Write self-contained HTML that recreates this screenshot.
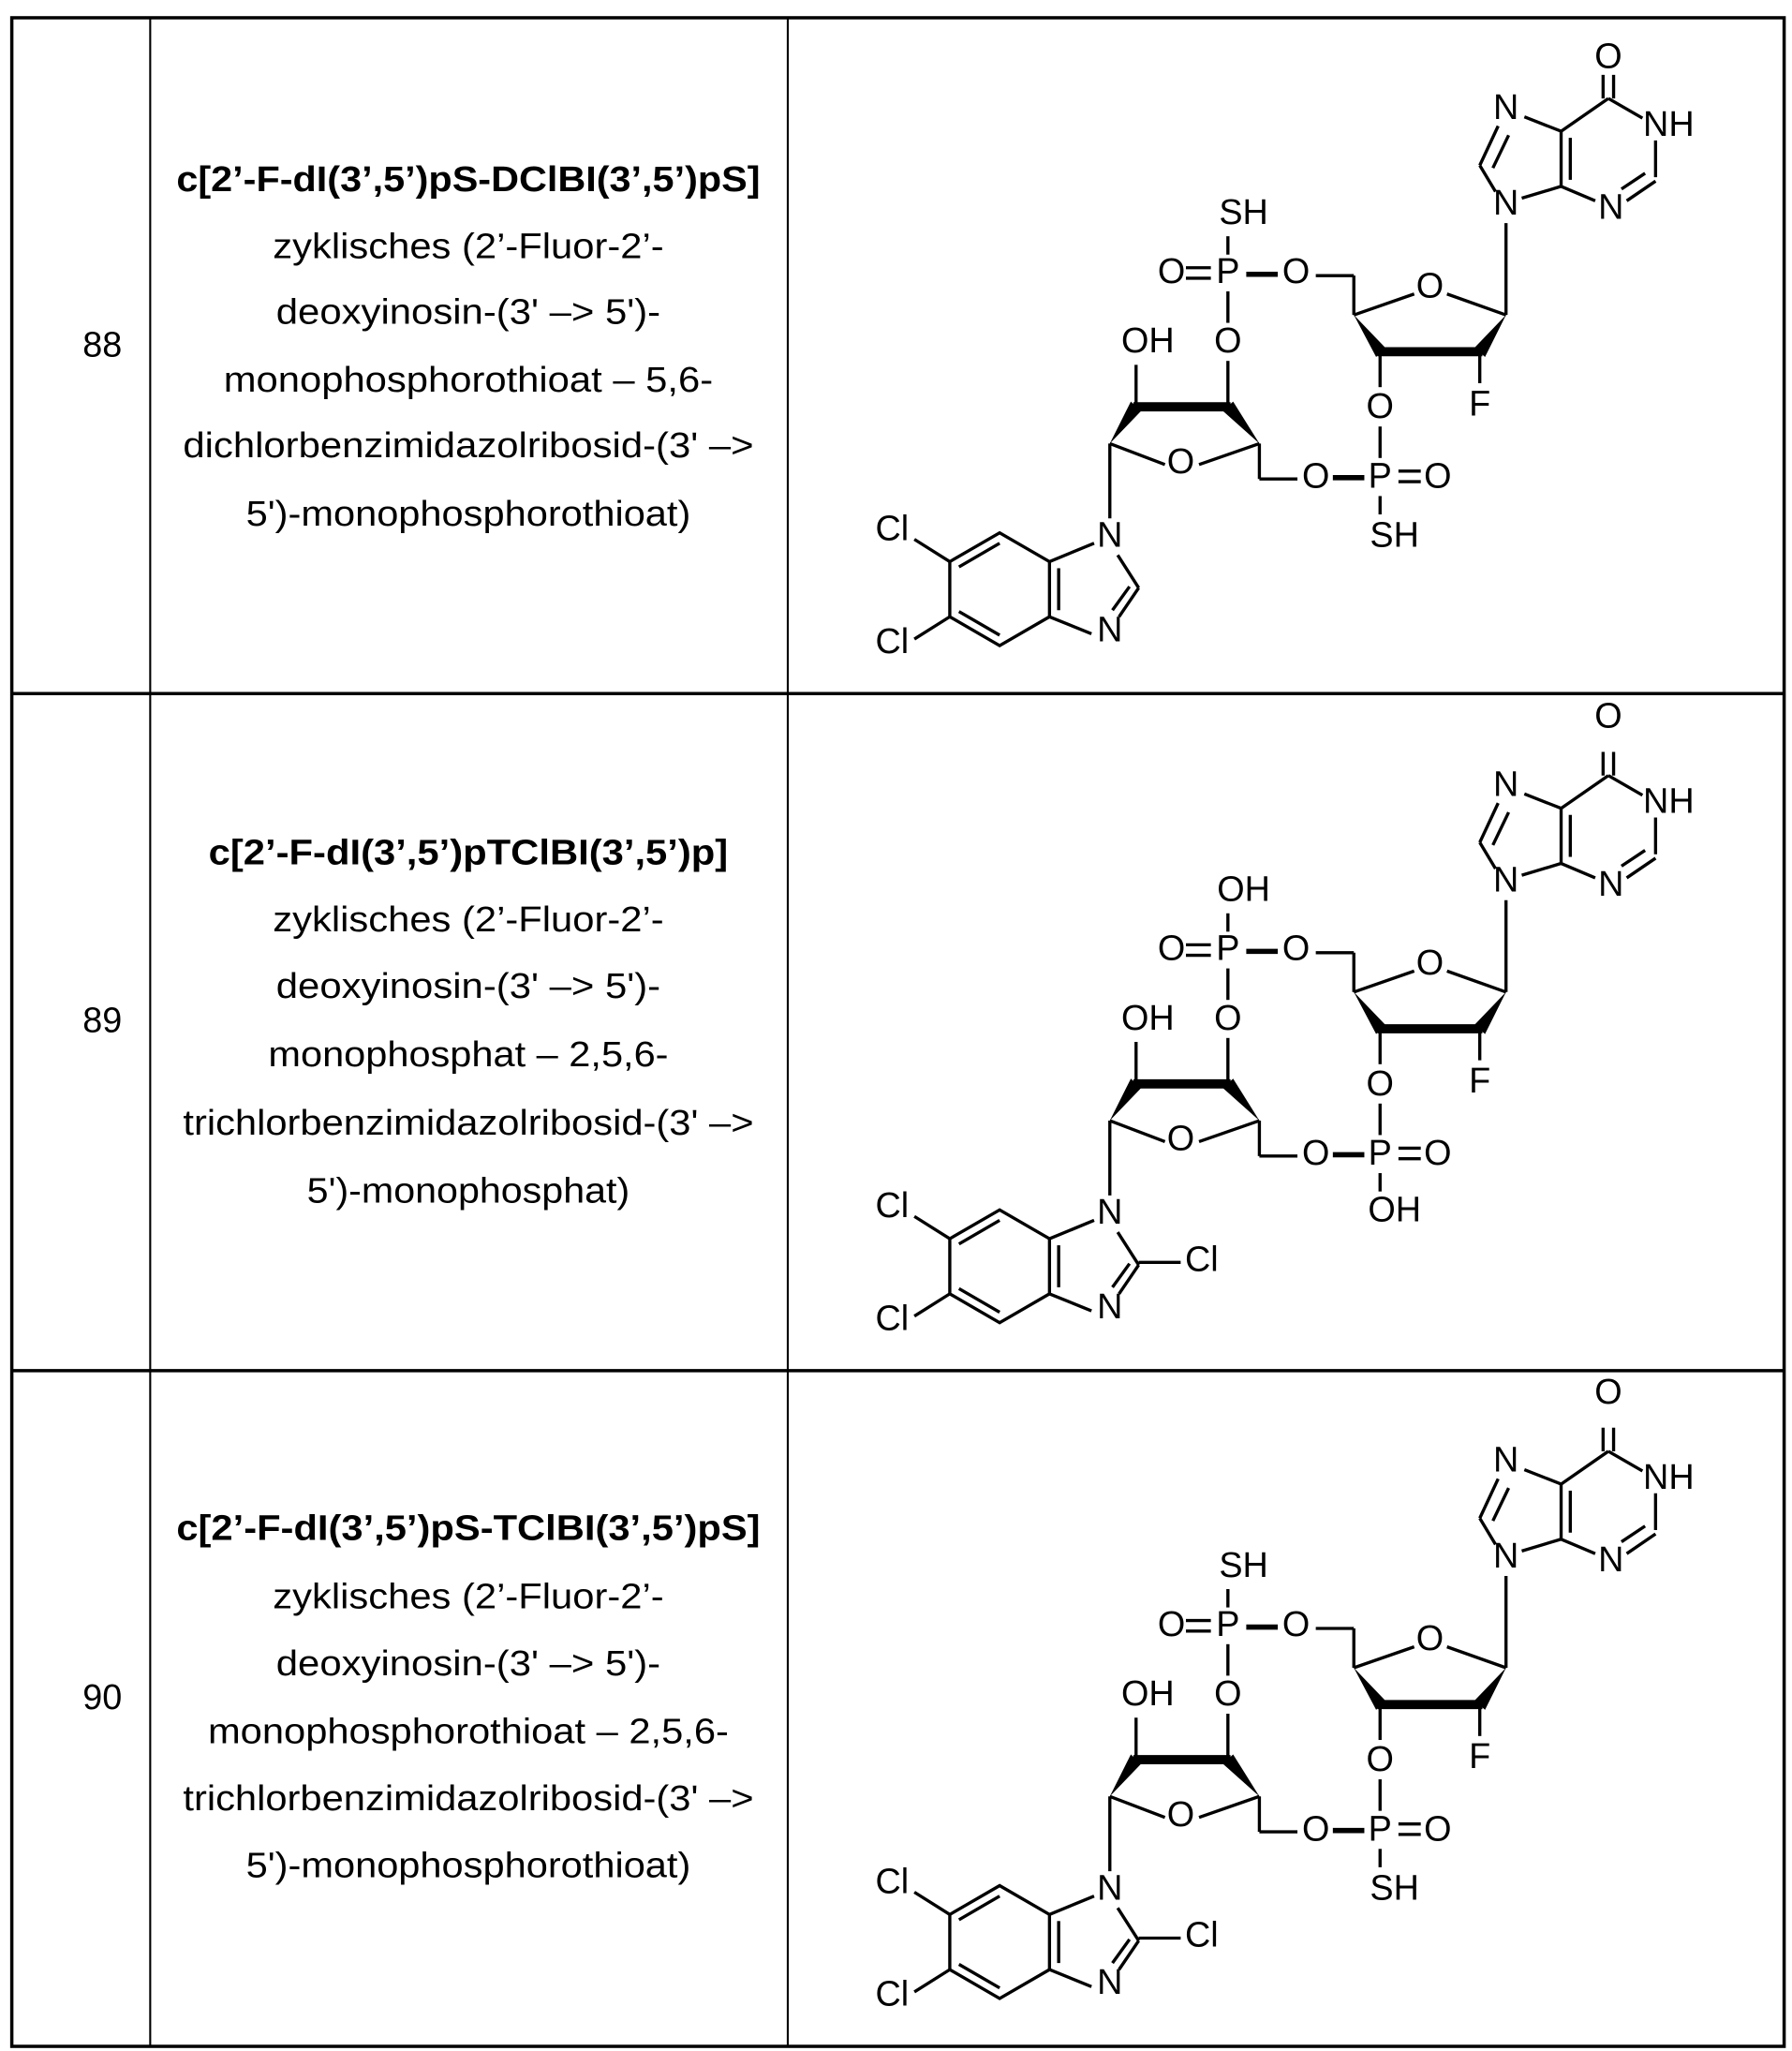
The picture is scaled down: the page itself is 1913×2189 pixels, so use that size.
<!DOCTYPE html>
<html><head><meta charset="utf-8"><style>
html,body{margin:0;padding:0;background:#fff}
svg{display:block}
text{font-family:"Liberation Sans",sans-serif;fill:#000}
.l text{font-size:27px;text-anchor:middle;dominant-baseline:central}
.m line,.m polyline,.m path{stroke:#000;stroke-width:2.4;fill:none;stroke-linecap:butt}
.m .w{fill:#000;stroke:none}
.m .t{stroke-width:7}
.m .pb{stroke-width:4}
</style></head><body>
<svg width="1913" height="2189" viewBox="0 0 1366 1563" xmlns="http://www.w3.org/2000/svg">
<rect x="0" y="0" width="1366" height="1563" fill="#fff"/>
<g stroke="#000" fill="none">
<rect x="9" y="13.5" width="1351" height="1546" stroke-width="2.5"/>
<line x1="9" y1="528.5" x2="1360" y2="528.5" stroke-width="2.5"/>
<line x1="9" y1="1044.5" x2="1360" y2="1044.5" stroke-width="2.5"/>
<line x1="114.5" y1="13" x2="114.5" y2="1560" stroke-width="1.5"/>
<line x1="600.5" y1="13" x2="600.5" y2="1560" stroke-width="1.5"/>
</g>
<g class="l">
<text x="78" y="263">88</text>
<text x="78" y="778">89</text>
<text x="78" y="1294">90</text>
<g font-weight="bold"><text x="357" y="137" textLength="445" lengthAdjust="spacingAndGlyphs" style="font-weight:bold">c[2’-F-dI(3’,5’)pS-DClBI(3’,5’)pS]</text></g>
<text x="357" y="188" textLength="298" lengthAdjust="spacingAndGlyphs">zyklisches (2’-Fluor-2’-</text>
<text x="357" y="238" textLength="293" lengthAdjust="spacingAndGlyphs">deoxyinosin-(3' –&gt; 5')-</text>
<text x="357" y="290" textLength="373" lengthAdjust="spacingAndGlyphs">monophosphorothioat – 5,6-</text>
<text x="357" y="340" textLength="435" lengthAdjust="spacingAndGlyphs">dichlorbenzimidazolribosid-(3' –&gt;</text>
<text x="357" y="392" textLength="339" lengthAdjust="spacingAndGlyphs">5')-monophosphorothioat)</text>

<text x="357" y="650" textLength="396" lengthAdjust="spacingAndGlyphs" style="font-weight:bold">c[2’-F-dI(3’,5’)pTClBI(3’,5’)p]</text>
<text x="357" y="701" textLength="298" lengthAdjust="spacingAndGlyphs">zyklisches (2’-Fluor-2’-</text>
<text x="357" y="752" textLength="293" lengthAdjust="spacingAndGlyphs">deoxyinosin-(3' –&gt; 5')-</text>
<text x="357" y="804" textLength="305" lengthAdjust="spacingAndGlyphs">monophosphat – 2,5,6-</text>
<text x="357" y="856" textLength="435" lengthAdjust="spacingAndGlyphs">trichlorbenzimidazolribosid-(3' –&gt;</text>
<text x="357" y="908" textLength="246" lengthAdjust="spacingAndGlyphs">5')-monophosphat)</text>

<text x="357" y="1165" textLength="445" lengthAdjust="spacingAndGlyphs" style="font-weight:bold">c[2’-F-dI(3’,5’)pS-TClBI(3’,5’)pS]</text>
<text x="357" y="1217" textLength="298" lengthAdjust="spacingAndGlyphs">zyklisches (2’-Fluor-2’-</text>
<text x="357" y="1268" textLength="293" lengthAdjust="spacingAndGlyphs">deoxyinosin-(3' –&gt; 5')-</text>
<text x="357" y="1320" textLength="397" lengthAdjust="spacingAndGlyphs">monophosphorothioat – 2,5,6-</text>
<text x="357" y="1371" textLength="435" lengthAdjust="spacingAndGlyphs">trichlorbenzimidazolribosid-(3' –&gt;</text>
<text x="357" y="1422" textLength="339" lengthAdjust="spacingAndGlyphs">5')-monophosphorothioat)</text>
</g>

<!-- Molecule 1 -->
<g class="m">
<line x1="1222" y1="57" x2="1222" y2="75"/><line x1="1230" y1="57" x2="1230" y2="75"/>
<line x1="1226" y1="75" x2="1252" y2="90"/>
<line x1="1262" y1="107" x2="1262" y2="135"/>
<line x1="1262" y1="138" x2="1240" y2="153"/><line x1="1254" y1="132" x2="1236" y2="144"/>
<line x1="1216" y1="153" x2="1190" y2="142"/>
<line x1="1190" y1="100" x2="1226" y2="75"/>
<line x1="1190" y1="100" x2="1190" y2="142"/><line x1="1197" y1="105" x2="1197" y2="137"/>
<line x1="1190" y1="100" x2="1162" y2="89"/>
<line x1="1142" y1="96" x2="1128" y2="126"/><line x1="1150" y1="103" x2="1138" y2="128"/>
<line x1="1128" y1="126" x2="1140" y2="146"/>
<line x1="1160" y1="151" x2="1190" y2="142"/>
<line x1="1148" y1="170" x2="1148" y2="240"/>
<line x1="1148" y1="240" x2="1103" y2="224"/>
<line x1="1078" y1="224" x2="1032" y2="240"/>
<line x1="1032" y1="240" x2="1032" y2="210"/>
<line x1="1032" y1="210" x2="1003" y2="210"/>
<line class="pb" x1="974" y1="209" x2="950" y2="209"/>
<line x1="904" y1="204" x2="923" y2="204"/><line x1="904" y1="212" x2="923" y2="212"/>
<line x1="936" y1="180" x2="936" y2="194"/>
<line x1="936" y1="222" x2="936" y2="246"/>
<line x1="936" y1="275" x2="936" y2="310"/>
<polygon class="w" points="1032,240 1049,272 1056,265"/>
<line class="t" x1="1050" y1="268" x2="1130" y2="268"/>
<polygon class="w" points="1148,240 1124,265 1132,272"/>
<line x1="1052" y1="268" x2="1052" y2="295"/>
<line x1="1052" y1="325" x2="1052" y2="349"/>
<line x1="1066" y1="359" x2="1083" y2="359"/><line x1="1066" y1="367" x2="1083" y2="367"/>
<line class="pb" x1="1040" y1="364" x2="1016" y2="364"/>
<line x1="989" y1="365" x2="960" y2="365"/>
<line x1="960" y1="365" x2="960" y2="338"/>
<line x1="1128" y1="268" x2="1128" y2="292"/>
<line x1="1052" y1="378" x2="1052" y2="392"/>
<line x1="960" y1="338" x2="914" y2="354"/>
<line x1="888" y1="354" x2="846" y2="338"/>
<polygon class="w" points="846,338 862,306 870,313"/>
<line class="t" x1="864" y1="310" x2="938" y2="310"/>
<polygon class="w" points="960,338 932,313 940,306"/>
<line x1="866" y1="310" x2="866" y2="278"/>
<line x1="846" y1="338" x2="846" y2="395"/>
<line x1="834" y1="414" x2="800" y2="428"/>
<line x1="800" y1="428" x2="800" y2="470"/><line x1="807" y1="433" x2="807" y2="465"/>
<line x1="800" y1="470" x2="832" y2="483"/>
<line x1="852" y1="423" x2="868" y2="448"/>
<line x1="868" y1="448" x2="853" y2="470"/><line x1="861" y1="447" x2="848" y2="465"/>
<polyline points="800,428 762,406 724,428 724,470 762,492 800,470"/>
<line x1="762" y1="414" x2="731" y2="432"/>
<line x1="731" y1="466" x2="762" y2="484"/>
<line x1="724" y1="428" x2="697" y2="411"/>
<line x1="724" y1="470" x2="697" y2="487"/>
</g>
<g class="l">
<text x="1226" y="43">O</text><text x="1272" y="95">NH</text><text x="1148" y="82">N</text>
<text x="1148" y="155">N</text><text x="1228" y="158">N</text>
<text x="1090" y="218">O</text><text x="988" y="207">O</text><text x="936" y="207">P</text><text x="893" y="207">O</text>
<text x="948" y="162">SH</text><text x="936" y="260">O</text><text x="1128" y="308">F</text><text x="1052" y="310">O</text>
<text x="1052" y="363">P</text><text x="1096" y="363">O</text><text x="1003" y="363">O</text><text x="1063" y="408">SH</text>
<text x="900" y="352">O</text><text x="875" y="260">OH</text><text x="846" y="408">N</text><text x="846" y="480">N</text>
<text x="680" y="403">Cl</text><text x="680" y="489">Cl</text>
</g>

<!-- Molecule 2 -->
<g transform="translate(0,516)">
<g class="m">
<line x1="1222" y1="57" x2="1222" y2="75"/><line x1="1230" y1="57" x2="1230" y2="75"/>
<line x1="1226" y1="75" x2="1252" y2="90"/>
<line x1="1262" y1="107" x2="1262" y2="135"/>
<line x1="1262" y1="138" x2="1240" y2="153"/><line x1="1254" y1="132" x2="1236" y2="144"/>
<line x1="1216" y1="153" x2="1190" y2="142"/>
<line x1="1190" y1="100" x2="1226" y2="75"/>
<line x1="1190" y1="100" x2="1190" y2="142"/><line x1="1197" y1="105" x2="1197" y2="137"/>
<line x1="1190" y1="100" x2="1162" y2="89"/>
<line x1="1142" y1="96" x2="1128" y2="126"/><line x1="1150" y1="103" x2="1138" y2="128"/>
<line x1="1128" y1="126" x2="1140" y2="146"/>
<line x1="1160" y1="151" x2="1190" y2="142"/>
<line x1="1148" y1="170" x2="1148" y2="240"/>
<line x1="1148" y1="240" x2="1103" y2="224"/>
<line x1="1078" y1="224" x2="1032" y2="240"/>
<line x1="1032" y1="240" x2="1032" y2="210"/>
<line x1="1032" y1="210" x2="1003" y2="210"/>
<line class="pb" x1="974" y1="209" x2="950" y2="209"/>
<line x1="904" y1="204" x2="923" y2="204"/><line x1="904" y1="212" x2="923" y2="212"/>
<line x1="936" y1="180" x2="936" y2="194"/>
<line x1="936" y1="222" x2="936" y2="246"/>
<line x1="936" y1="275" x2="936" y2="310"/>
<polygon class="w" points="1032,240 1049,272 1056,265"/>
<line class="t" x1="1050" y1="268" x2="1130" y2="268"/>
<polygon class="w" points="1148,240 1124,265 1132,272"/>
<line x1="1052" y1="268" x2="1052" y2="295"/>
<line x1="1052" y1="325" x2="1052" y2="349"/>
<line x1="1066" y1="359" x2="1083" y2="359"/><line x1="1066" y1="367" x2="1083" y2="367"/>
<line class="pb" x1="1040" y1="364" x2="1016" y2="364"/>
<line x1="989" y1="365" x2="960" y2="365"/>
<line x1="960" y1="365" x2="960" y2="338"/>
<line x1="1128" y1="268" x2="1128" y2="292"/>
<line x1="1052" y1="378" x2="1052" y2="392"/>
<line x1="960" y1="338" x2="914" y2="354"/>
<line x1="888" y1="354" x2="846" y2="338"/>
<polygon class="w" points="846,338 862,306 870,313"/>
<line class="t" x1="864" y1="310" x2="938" y2="310"/>
<polygon class="w" points="960,338 932,313 940,306"/>
<line x1="866" y1="310" x2="866" y2="278"/>
<line x1="846" y1="338" x2="846" y2="395"/>
<line x1="834" y1="414" x2="800" y2="428"/>
<line x1="800" y1="428" x2="800" y2="470"/><line x1="807" y1="433" x2="807" y2="465"/>
<line x1="800" y1="470" x2="832" y2="483"/>
<line x1="852" y1="423" x2="868" y2="448"/>
<line x1="868" y1="448" x2="853" y2="470"/><line x1="861" y1="447" x2="848" y2="465"/>
<line x1="868" y1="446" x2="900" y2="446"/>
<polyline points="800,428 762,406 724,428 724,470 762,492 800,470"/>
<line x1="762" y1="414" x2="731" y2="432"/>
<line x1="731" y1="466" x2="762" y2="484"/>
<line x1="724" y1="428" x2="697" y2="411"/>
<line x1="724" y1="470" x2="697" y2="487"/>
</g>
<g class="l">
<text x="1226" y="30">O</text><text x="1272" y="95">NH</text><text x="1148" y="82">N</text>
<text x="1148" y="155">N</text><text x="1228" y="158">N</text>
<text x="1090" y="218">O</text><text x="988" y="207">O</text><text x="936" y="207">P</text><text x="893" y="207">O</text>
<text x="948" y="162">OH</text><text x="936" y="260">O</text><text x="1128" y="308">F</text><text x="1052" y="310">O</text>
<text x="1052" y="363">P</text><text x="1096" y="363">O</text><text x="1003" y="363">O</text><text x="1063" y="406">OH</text>
<text x="900" y="352">O</text><text x="875" y="260">OH</text><text x="846" y="408">N</text><text x="846" y="480">N</text>
<text x="680" y="403">Cl</text><text x="680" y="489">Cl</text><text x="916" y="444">Cl</text>
</g>
</g>

<!-- Molecule 3 -->
<g transform="translate(0,1031)">
<g class="m">
<line x1="1222" y1="57" x2="1222" y2="75"/><line x1="1230" y1="57" x2="1230" y2="75"/>
<line x1="1226" y1="75" x2="1252" y2="90"/>
<line x1="1262" y1="107" x2="1262" y2="135"/>
<line x1="1262" y1="138" x2="1240" y2="153"/><line x1="1254" y1="132" x2="1236" y2="144"/>
<line x1="1216" y1="153" x2="1190" y2="142"/>
<line x1="1190" y1="100" x2="1226" y2="75"/>
<line x1="1190" y1="100" x2="1190" y2="142"/><line x1="1197" y1="105" x2="1197" y2="137"/>
<line x1="1190" y1="100" x2="1162" y2="89"/>
<line x1="1142" y1="96" x2="1128" y2="126"/><line x1="1150" y1="103" x2="1138" y2="128"/>
<line x1="1128" y1="126" x2="1140" y2="146"/>
<line x1="1160" y1="151" x2="1190" y2="142"/>
<line x1="1148" y1="170" x2="1148" y2="240"/>
<line x1="1148" y1="240" x2="1103" y2="224"/>
<line x1="1078" y1="224" x2="1032" y2="240"/>
<line x1="1032" y1="240" x2="1032" y2="210"/>
<line x1="1032" y1="210" x2="1003" y2="210"/>
<line class="pb" x1="974" y1="209" x2="950" y2="209"/>
<line x1="904" y1="204" x2="923" y2="204"/><line x1="904" y1="212" x2="923" y2="212"/>
<line x1="936" y1="180" x2="936" y2="194"/>
<line x1="936" y1="222" x2="936" y2="246"/>
<line x1="936" y1="275" x2="936" y2="310"/>
<polygon class="w" points="1032,240 1049,272 1056,265"/>
<line class="t" x1="1050" y1="268" x2="1130" y2="268"/>
<polygon class="w" points="1148,240 1124,265 1132,272"/>
<line x1="1052" y1="268" x2="1052" y2="295"/>
<line x1="1052" y1="325" x2="1052" y2="349"/>
<line x1="1066" y1="359" x2="1083" y2="359"/><line x1="1066" y1="367" x2="1083" y2="367"/>
<line class="pb" x1="1040" y1="364" x2="1016" y2="364"/>
<line x1="989" y1="365" x2="960" y2="365"/>
<line x1="960" y1="365" x2="960" y2="338"/>
<line x1="1128" y1="268" x2="1128" y2="292"/>
<line x1="1052" y1="378" x2="1052" y2="392"/>
<line x1="960" y1="338" x2="914" y2="354"/>
<line x1="888" y1="354" x2="846" y2="338"/>
<polygon class="w" points="846,338 862,306 870,313"/>
<line class="t" x1="864" y1="310" x2="938" y2="310"/>
<polygon class="w" points="960,338 932,313 940,306"/>
<line x1="866" y1="310" x2="866" y2="278"/>
<line x1="846" y1="338" x2="846" y2="395"/>
<line x1="834" y1="414" x2="800" y2="428"/>
<line x1="800" y1="428" x2="800" y2="470"/><line x1="807" y1="433" x2="807" y2="465"/>
<line x1="800" y1="470" x2="832" y2="483"/>
<line x1="852" y1="423" x2="868" y2="448"/>
<line x1="868" y1="448" x2="853" y2="470"/><line x1="861" y1="447" x2="848" y2="465"/>
<line x1="868" y1="446" x2="900" y2="446"/>
<polyline points="800,428 762,406 724,428 724,470 762,492 800,470"/>
<line x1="762" y1="414" x2="731" y2="432"/>
<line x1="731" y1="466" x2="762" y2="484"/>
<line x1="724" y1="428" x2="697" y2="411"/>
<line x1="724" y1="470" x2="697" y2="487"/>
</g>
<g class="l">
<text x="1226" y="30">O</text><text x="1272" y="95">NH</text><text x="1148" y="82">N</text>
<text x="1148" y="155">N</text><text x="1228" y="158">N</text>
<text x="1090" y="218">O</text><text x="988" y="207">O</text><text x="936" y="207">P</text><text x="893" y="207">O</text>
<text x="948" y="162">SH</text><text x="936" y="260">O</text><text x="1128" y="308">F</text><text x="1052" y="310">O</text>
<text x="1052" y="363">P</text><text x="1096" y="363">O</text><text x="1003" y="363">O</text><text x="1063" y="408">SH</text>
<text x="900" y="352">O</text><text x="875" y="260">OH</text><text x="846" y="408">N</text><text x="846" y="480">N</text>
<text x="680" y="403">Cl</text><text x="680" y="489">Cl</text><text x="916" y="444">Cl</text>
</g>
</g>
</svg>
</body></html>
